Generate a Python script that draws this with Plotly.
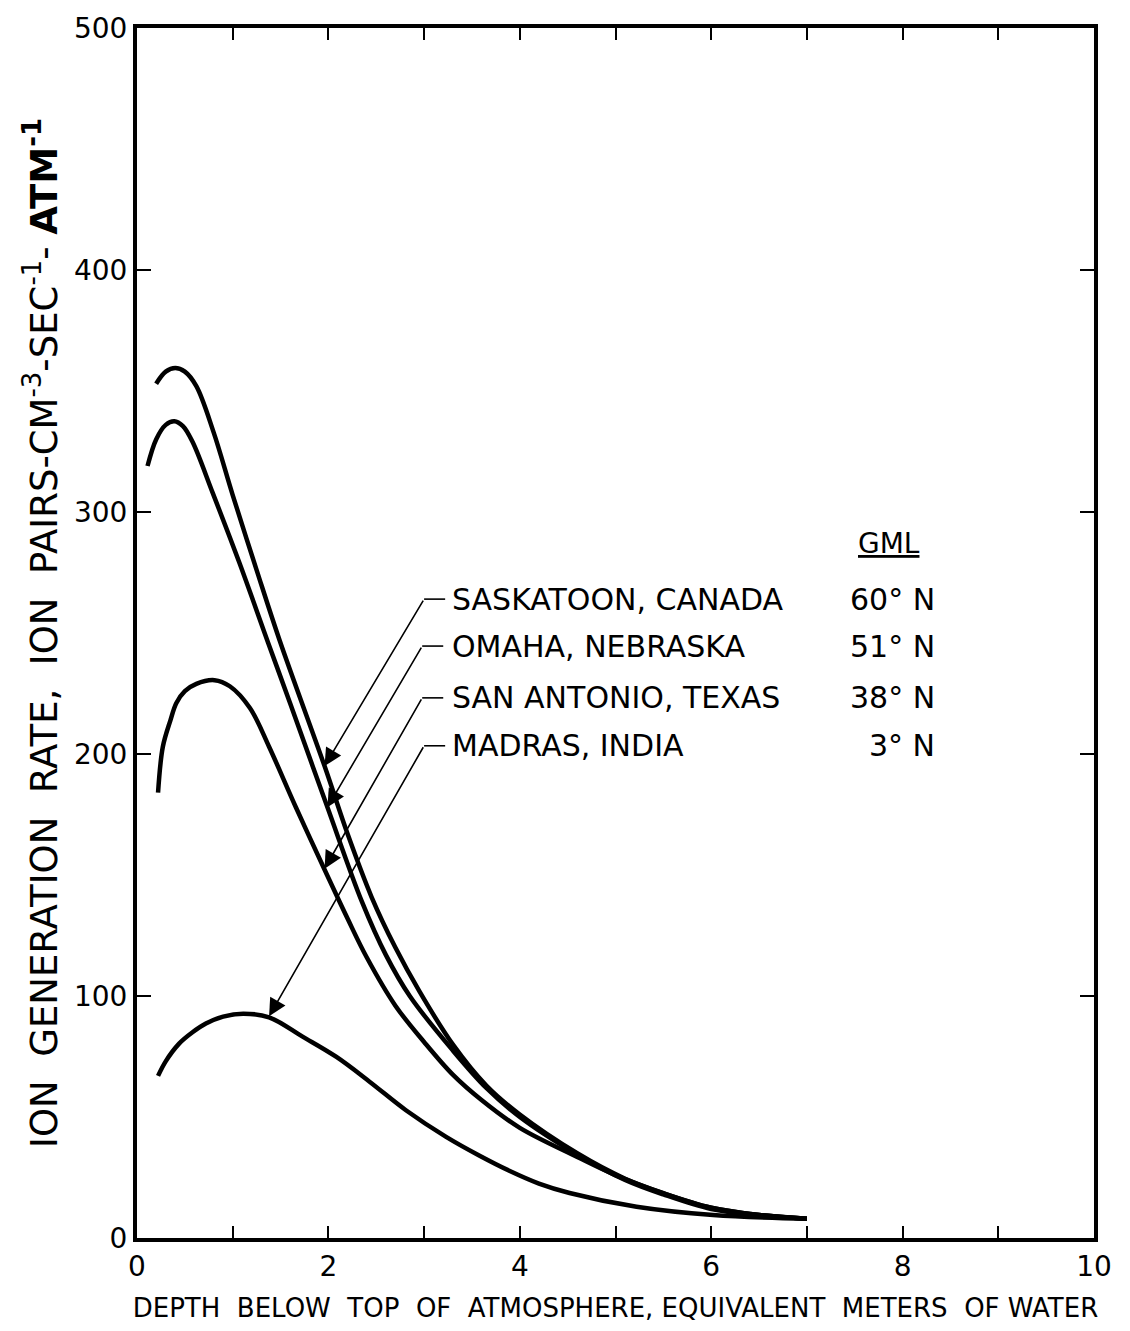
import plotly.graph_objects as go

# ---------------- data ----------------
sask_x = [0.2, 0.3, 0.4, 0.5, 0.62, 0.8, 1.0, 1.25, 1.49, 1.96, 2.2, 2.45, 2.7, 2.95, 3.3, 3.65, 4.0, 4.6, 5.1, 5.5, 6.0, 6.5, 7.0]
sask_y = [353, 358, 359.5, 358, 352, 333, 307, 276, 247, 195, 167, 141, 120, 102, 80, 63, 51, 35, 24.5, 18.5, 12.5, 9.5, 8]

omaha_x = [0.11, 0.2, 0.3, 0.39, 0.48, 0.58, 0.79, 1.07, 1.37, 1.6, 1.99, 2.35, 2.6, 2.85, 3.3, 3.65, 4.0, 4.6, 5.1, 5.5, 6.0, 6.5, 7.0]
omaha_y = [319, 330, 336, 337.5, 335.5, 329, 308, 279, 246, 221, 178, 139, 117, 100, 77.5, 62, 50, 34.5, 24, 18, 12, 9.5, 8]

sanant_x = [0.22, 0.27, 0.35, 0.41, 0.5, 0.62, 0.81, 0.97, 1.18, 1.38, 1.66, 1.98, 2.2, 2.4, 2.7, 3.0, 3.3, 3.6, 4.0, 4.6, 5.0, 5.5, 6.0, 6.5, 7.0]
sanant_y = [184, 203, 214, 221, 226, 229, 230.5, 228, 219, 203, 178, 150.5, 132, 116, 96, 81, 67.5, 57, 45.5, 33.5, 26, 18.5, 12.5, 9.5, 8]

madras_x = [0.22, 0.3, 0.44, 0.58, 0.72, 0.9, 1.11, 1.38, 1.73, 2.08, 2.43, 2.81, 3.23, 3.58, 3.89, 4.2, 4.52, 5.22, 6.02, 7.0]
madras_y = [67, 73, 80.3, 85, 88.6, 91.5, 92.7, 91.2, 83.2, 74.9, 64.6, 52.8, 41.8, 34, 27.8, 22.5, 18.6, 12.9, 9.5, 8]

station_names = ["SASKATOON, CANADA", "OMAHA, NEBRASKA", "SAN ANTONIO, TEXAS", "MADRAS, INDIA"]
station_gml = ["60° N", "51° N", "38° N", "3° N"]

x_tick_vals = [0, 2, 4, 6, 8, 10]
y_tick_vals = [0, 100, 200, 300, 400, 500]

FONT = "DejaVu Sans"
NB = "\u00a0"

fig = go.Figure()
for xs, ys in [(sask_x, sask_y), (omaha_x, omaha_y), (sanant_x, sanant_y), (madras_x, madras_y)]:
    fig.add_trace(go.Scatter(x=xs, y=ys, mode="lines",
                             line=dict(color="black", width=4.5, shape="spline", smoothing=1.0),
                             showlegend=False, hoverinfo="skip"))

# leader lines: arrow tip on curve, corner of the leader (also the label row)
leaders = [
    (1.96, 195, 3.0, 264.0),
    (1.99, 178, 2.98, 244.6),
    (1.96, 152.6, 2.98, 223.2),
    (1.38, 91.6, 3.0, 203.4),
]
label_x_name = 3.27
label_x_gml = 8.36
annotations = []
shapes = []
for (tx, ty, cx, cy), name, gml in zip(leaders, station_names, station_gml):
    annotations.append(dict(x=tx, y=ty, ax=cx, ay=cy, xref="x", yref="y", axref="x", ayref="y",
                            text="", showarrow=True, arrowhead=2, arrowsize=2.2, arrowwidth=1.6,
                            arrowcolor="black"))
    shapes.append(dict(type="line", xref="x", yref="y", x0=cx, y0=cy, x1=cx + 0.22, y1=cy,
                       line=dict(color="black", width=1.6)))
    annotations.append(dict(x=label_x_name, y=cy, xref="x", yref="y", text=name, showarrow=False,
                            xanchor="left", yanchor="middle",
                            font=dict(family=FONT, size=30, color="black")))
    annotations.append(dict(x=label_x_gml, y=cy, xref="x", yref="y", text=gml, showarrow=False,
                            xanchor="right", yanchor="middle",
                            font=dict(family=FONT, size=30, color="black")))

annotations.append(dict(x=7.86, y=287, xref="x", yref="y", text="<u>GML</u>", showarrow=False,
                        xanchor="center", yanchor="middle",
                        font=dict(family=FONT, size=28, color="black")))

fig.update_layout(
    width=1130, height=1331,
    margin=dict(l=137, r=36, t=26, b=93),
    paper_bgcolor="white", plot_bgcolor="white",
    annotations=annotations, shapes=shapes,
    font=dict(family=FONT, color="black"),
)

xtitle = f"DEPTH{NB} BELOW{NB} TOP{NB} OF{NB} ATMOSPHERE, EQUIVALENT{NB} METERS{NB} OF WATER"
ytitle = (f"ION{NB} GENERATION{NB} RATE,{NB} ION{NB} PAIRS-CM<sup>-3</sup>-SEC<sup>-1</sup>-"
          f"{NB}<b>ATM<sup>-1</sup></b>")

fig.update_xaxes(
    range=[0, 10], tickvals=x_tick_vals, ticktext=[str(v) for v in x_tick_vals],
    ticks="inside", ticklen=12, tickwidth=2, tickcolor="black",
    minor=dict(dtick=1, ticks="inside", ticklen=12, tickwidth=2, tickcolor="black", showgrid=False),
    showline=True, linewidth=4, linecolor="black", mirror="ticks",
    showgrid=False, zeroline=False,
    tickfont=dict(family=FONT, size=28, color="black"),
    title=dict(text=xtitle, font=dict(family=FONT, size=26, color="black"), standoff=18),
)
fig.update_yaxes(
    range=[0, 500], tickvals=y_tick_vals, ticktext=[str(v) for v in y_tick_vals],
    ticks="inside", ticklen=14, tickwidth=2, tickcolor="black",
    showline=True, linewidth=4, linecolor="black", mirror="ticks",
    showgrid=False, zeroline=False,
    tickfont=dict(family=FONT, size=28, color="black"),
    title=dict(text=ytitle, font=dict(family=FONT, size=37, color="black"), standoff=6),
)

fig.write_html("out.html")
